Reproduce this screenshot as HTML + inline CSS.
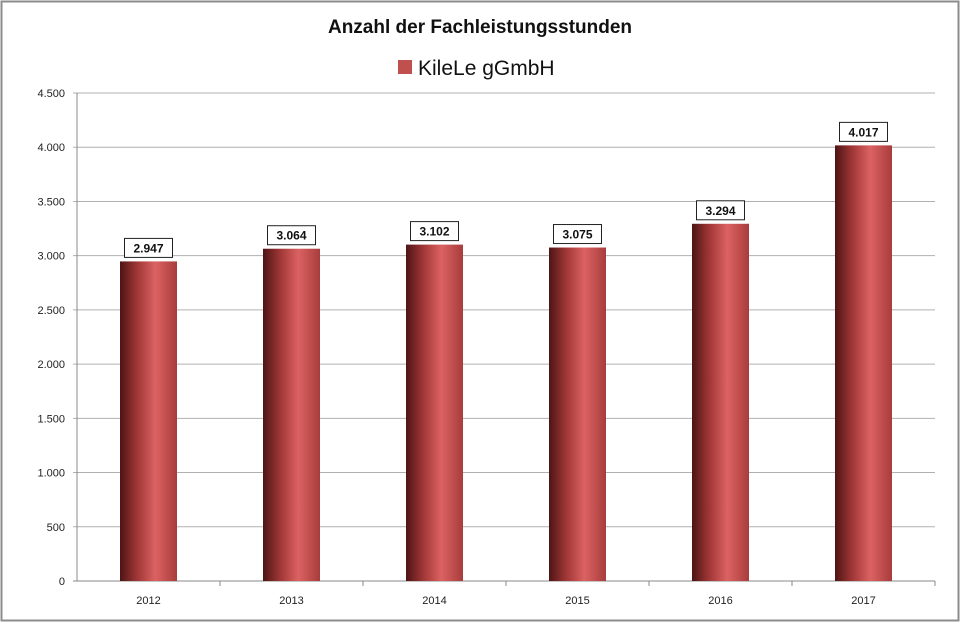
<!DOCTYPE html>
<html><head><meta charset="utf-8"><style>
body{margin:0;background:#fff;font-family:"Liberation Sans",sans-serif}
</style></head><body>
<svg id="chart" width="960" height="623" xmlns="http://www.w3.org/2000/svg">
<defs>
<linearGradient id="bg" x1="0" x2="1" y1="0" y2="0">
<stop offset="0" stop-color="#4e1414"/>
<stop offset="0.3" stop-color="#a03636"/>
<stop offset="0.62" stop-color="#dc6262"/>
<stop offset="1" stop-color="#a83c3c"/>
</linearGradient>
</defs>
<rect x="1.5" y="1.5" width="957" height="619" fill="#fff" stroke="#8c8c8c" stroke-width="2"/>
<text x="480" y="33" text-anchor="middle" font-size="19" font-weight="bold" fill="#111">Anzahl der Fachleistungsstunden</text>
<rect x="398" y="60" width="14" height="14" fill="#c0504d"/>
<text x="418" y="75" font-size="21" fill="#111">KileLe gGmbH</text>
<g id="grid"></g><g id="bars"></g>
</svg>
<script>
const categories=["2012","2013","2014","2015","2016","2017"];
const values=[2947,3064,3102,3075,3294,4017];
const valueLabels=["2.947","3.064","3.102","3.075","3.294","4.017"];
const ticks=[0,500,1000,1500,2000,2500,3000,3500,4000,4500];
const tickLabels=["0","500","1.000","1.500","2.000","2.500","3.000","3.500","4.000","4.500"];
const NS="http://www.w3.org/2000/svg";
const L=77,R=935,T=93,B=581,ymax=4500;
const y=v=>B-(v/ymax)*(B-T);
const band=(R-L)/categories.length;
const x=i=>L+band*(i+0.5);
function mk(t,a,p){const e=document.createElementNS(NS,t);for(const k in a)e.setAttribute(k,a[k]);p.appendChild(e);return e;}
const g=document.getElementById('grid'),b=document.getElementById('bars');
ticks.forEach((t,i)=>{
 const ln=mk('line',{x1:L-4,x2:R,y1:y(t),y2:y(t),stroke:t===0?'#888':'#b0b0b0','stroke-width':1},g);
 
 
 const tx=mk('text',{x:L-12,y:y(t)+4,'text-anchor':'end','font-size':11,fill:'#222'},g);
 tx.textContent=tickLabels[i];
 
 
});
const ax=mk('line',{x1:L,x2:L,y1:T,y2:B,stroke:'#888'},g);


categories.forEach((c,i)=>{
 const w=57,cx=x(i);
 const tk=mk('line',{x1:L+band*(i+1),x2:L+band*(i+1),y1:B,y2:B+5,stroke:'#888'},g);
 
 
 const r=mk('rect',{x:cx-w/2,y:y(values[i]),width:w,height:B-y(values[i]),fill:'url(#bg)'},b);
 
 
 const lb=mk('rect',{x:cx-24,y:y(values[i])-23,width:48,height:19,fill:'#fff',stroke:'#222','stroke-width':1},b);
 
 
 const lt=mk('text',{x:cx,y:y(values[i])-9,'text-anchor':'middle','font-size':12,'font-weight':'bold',fill:'#111'},b);
 lt.textContent=valueLabels[i];
 
 
 const xt=mk('text',{x:cx,y:B+23,'text-anchor':'middle','font-size':11,fill:'#222'},g);
 xt.textContent=c;
 
 
});
</script>
</body></html>
